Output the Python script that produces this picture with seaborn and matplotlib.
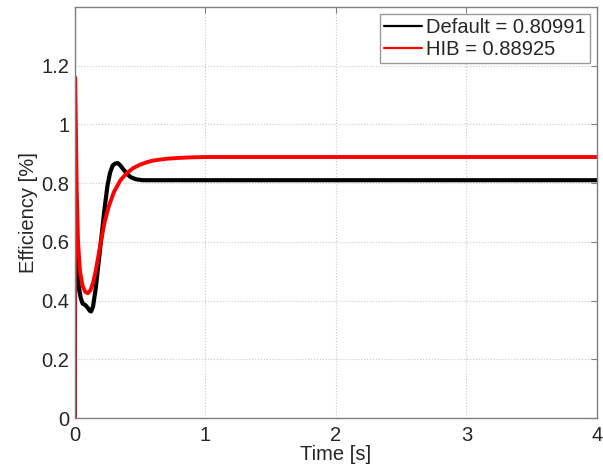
import matplotlib
matplotlib.use("Agg")
import matplotlib.pyplot as plt
import seaborn as sns
import pandas as pd
from matplotlib.lines import Line2D

# Time samples [s] and efficiency values
t_default = [0.0, 0.003, 0.01, 0.018, 0.03, 0.045, 0.06, 0.08, 0.10, 0.115, 0.125, 0.14,
             0.16, 0.19, 0.21, 0.23, 0.25, 0.27, 0.29, 0.31, 0.33, 0.35, 0.37, 0.40,
             0.43, 0.47, 0.52, 0.6, 0.8, 1.0, 1.5, 2.0, 2.5, 3.0, 3.5, 4.0]
eff_default = [0.0, 0.57, 0.57, 0.52, 0.45, 0.41, 0.39, 0.385, 0.375, 0.365, 0.363, 0.38,
               0.44, 0.56, 0.64, 0.72, 0.79, 0.835, 0.86, 0.867, 0.868, 0.86, 0.848, 0.832,
               0.82, 0.813, 0.81, 0.81, 0.81, 0.81, 0.81, 0.81, 0.81, 0.81, 0.81, 0.81]

t_hib = [0.0, 0.003, 0.008, 0.015, 0.025, 0.04, 0.06, 0.08, 0.10, 0.12, 0.14, 0.16,
         0.18, 0.20, 0.23, 0.26, 0.30, 0.35, 0.40, 0.45, 0.50, 0.55, 0.60, 0.70,
         0.80, 0.90, 1.0, 1.5, 2.0, 2.5, 3.0, 3.5, 4.0]
eff_hib = [0.0, 1.16, 1.0, 0.78, 0.60, 0.50, 0.45, 0.43, 0.425, 0.435, 0.46, 0.50,
           0.55, 0.60, 0.67, 0.72, 0.77, 0.81, 0.835, 0.852, 0.863, 0.871, 0.877, 0.883,
           0.886, 0.888, 0.889, 0.889, 0.889, 0.889, 0.889, 0.889, 0.889]

series_names = ["Default = 0.80991", "HIB = 0.88925"]
series_colors = ["#000000", "#ff0000"]
x_ticks = [0, 1, 2, 3, 4]
y_ticks = [0, 0.2, 0.4, 0.6, 0.8, 1.0, 1.2]
y_tick_labels = ["0", "0.2", "0.4", "0.6", "0.8", "1", "1.2"]

df = pd.concat([
    pd.DataFrame({"Time": t_default, "Efficiency": eff_default, "Series": series_names[0]}),
    pd.DataFrame({"Time": t_hib, "Efficiency": eff_hib, "Series": series_names[1]}),
], ignore_index=True)

sns.set_style("white")
plt.rcParams["font.family"] = ["Liberation Sans", "DejaVu Sans"]

FS = 14.5

fig = plt.figure(figsize=(6.03, 4.70), dpi=100)
ax = fig.add_axes([0.124, 0.1106, 0.866, 0.8745])

sns.lineplot(data=df[df.Series == series_names[0]], x="Time", y="Efficiency",
             color=series_colors[0], linewidth=3.0, ax=ax, legend=False, sort=False,
             estimator=None)
sns.lineplot(data=df[df.Series == series_names[1]], x="Time", y="Efficiency",
             color=series_colors[1], linewidth=2.8, ax=ax, legend=False, sort=False,
             estimator=None)

ax.set_xlim(0, 4)
ax.set_ylim(0, 1.4)
ax.set_xticks(x_ticks)
ax.set_xticklabels([str(v) for v in x_ticks])
ax.set_yticks(y_ticks)
ax.set_yticklabels(y_tick_labels)
ax.grid(True, linestyle=":", color="#c8c8c8", linewidth=0.8)
ax.tick_params(axis="both", which="both", direction="in", labelsize=FS,
               length=4, color="#808080", top=True, right=True)
ax.tick_params(axis="x", pad=6)
ax.tick_params(axis="y", pad=4)
for s in ax.spines.values():
    s.set_color("#808080")
    s.set_linewidth(1.0)
ax.set_xlabel("Time [s]", fontsize=FS, labelpad=0)
ax.set_ylabel("Efficiency [%]", fontsize=FS, labelpad=2)

handles = [Line2D([0], [0], color=c, linewidth=1.6) for c in series_colors]
leg = ax.legend(handles, series_names, loc="upper right", fontsize=FS,
                frameon=True, fancybox=False, edgecolor="#808080",
                handlelength=1.9, handletextpad=0.2, borderpad=0.2,
                labelspacing=0.15, borderaxespad=0.35)
leg.get_frame().set_linewidth(1.0)

fig.savefig("out.png", dpi=100)
